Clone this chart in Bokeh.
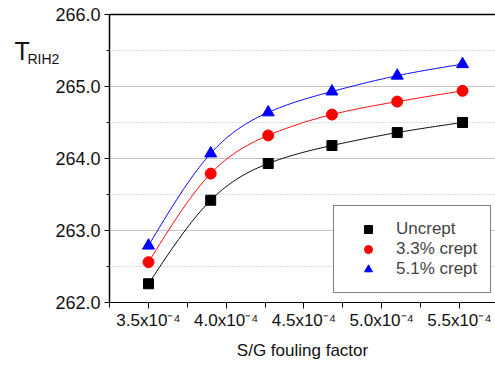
import numpy as np
from bokeh.plotting import figure
from bokeh.models import (FixedTicker, Label, Legend, LegendItem)
from bokeh.embed import file_html
from bokeh.resources import INLINE

# S/G fouling factor, in units of 1e-4
fouling = [3.5, 3.9, 4.27, 4.68, 5.10, 5.52]
uncrept = [262.26, 263.42, 263.93, 264.18, 264.36, 264.50]
crept_33 = [262.56, 263.79, 264.32, 264.61, 264.79, 264.94]
crept_51 = [262.79, 264.07, 264.64, 264.93, 265.15, 265.31]

x_ticks = [3.5, 4.0, 4.5, 5.0, 5.5]
x_minor_ticks = [3.25, 3.75, 4.25, 4.75, 5.25, 5.75]
x_tick_labels = ["3.5x10\u207b\u2074", "4.0x10\u207b\u2074", "4.5x10\u207b\u2074",
                 "5.0x10\u207b\u2074", "5.5x10\u207b\u2074"]
y_ticks = [262.0, 263.0, 264.0, 265.0, 266.0]
y_minor_ticks = [262.5, 263.5, 264.5, 265.5]

FONT = "Liberation Sans"

# axis box (data extents of the plotting box)
X0, X1 = 3.249, 5.732
Y0, Y1 = 262.0, 266.0


def natural_spline(x, y, n=200):
    x = np.asarray(x, float)
    y = np.asarray(y, float)
    k = len(x)
    h = np.diff(x)
    A = np.zeros((k, k))
    r = np.zeros(k)
    A[0, 0] = 1
    A[-1, -1] = 1
    for i in range(1, k - 1):
        A[i, i - 1] = h[i - 1]
        A[i, i] = 2 * (h[i - 1] + h[i])
        A[i, i + 1] = h[i]
        r[i] = 6 * ((y[i + 1] - y[i]) / h[i] - (y[i] - y[i - 1]) / h[i - 1])
    M = np.linalg.solve(A, r)
    xs = np.linspace(x[0], x[-1], n)
    idx = np.clip(np.searchsorted(x, xs) - 1, 0, k - 2)
    hi = h[idx]
    t1 = x[idx + 1] - xs
    t2 = xs - x[idx]
    ys = (M[idx] * t1 ** 3 / (6 * hi) + M[idx + 1] * t2 ** 3 / (6 * hi)
          + (y[idx] / hi - M[idx] * hi / 6) * t1 + (y[idx + 1] / hi - M[idx + 1] * hi / 6) * t2)
    return xs, ys


# the frame spans the whole canvas; both axes are pinned to the edges of the
# axis box so that the "T_RIH2" title can sit to the upper left of it
p = figure(width=495, height=366, output_backend="svg", toolbar_location=None,
           x_range=(2.548, X1), y_range=(261.111, 266.194),
           min_border_left=0, min_border_right=0, min_border_top=0, min_border_bottom=0)
p.outline_line_color = None
p.background_fill_color = "white"
p.border_fill_color = "white"
p.xgrid.visible = False
p.ygrid.visible = False

xa = p.below[0]
ya = p.left[0]

# horizontal grid lines, limited to the axis box
major_grid = [t for t in y_ticks if Y0 < t < Y1]
p.segment(x0=[X0] * len(major_grid), x1=[X1] * len(major_grid), y0=major_grid, y1=major_grid,
          line_color="#c4c4c4", line_width=1)
p.segment(x0=[X0] * len(y_minor_ticks), x1=[X1] * len(y_minor_ticks), y0=y_minor_ticks,
          y1=y_minor_ticks, line_color="#b8b8b8", line_width=1, line_dash="1 2")
# top border of the axis box
p.segment(x0=[X0], x1=[X1], y0=[Y1], y1=[Y1], line_color="black", line_width=1.5)

series = [
    (uncrept, "black", "square", 10, "Uncrept"),
    (crept_33, "red", "circle", 11, "3.3% crept"),
    (crept_51, "blue", "triangle", 12, "5.1% crept"),
]
items = []
for vals, col, mk, sz, name in series:
    xs, ys = natural_spline(fouling, vals)
    p.line(xs, ys, line_color=col, line_width=1)
for vals, col, mk, sz, name in series:
    r = p.scatter(fouling, vals, marker=mk, size=sz, fill_color=col, line_color=col)
    items.append(LegendItem(label=name, renderers=[r]))

legend = Legend(items=items, location=(333, 73), padding=13, spacing=0,
                glyph_width=42, glyph_height=20, label_height=20, label_standoff=7,
                label_text_font=FONT, label_text_font_size="17px",
                border_line_color="black", border_line_width=1,
                background_fill_color="white", background_fill_alpha=1.0, margin=0)
p.add_layout(legend, "center")

# x axis, pinned at the bottom of the axis box
xa.fixed_location = Y0
xa.bounds = (X0, X1)
xa.ticker = FixedTicker(ticks=x_ticks, minor_ticks=x_minor_ticks)
xa.major_label_overrides = {t: l for t, l in zip(x_ticks, x_tick_labels)}
xa.major_label_text_font = FONT
xa.major_label_text_font_size = "17px"
xa.major_label_text_color = "#111111"
xa.major_tick_out = 6
xa.major_tick_in = 0
xa.minor_tick_out = 5
xa.minor_tick_in = 0
xa.major_label_standoff = 3
xa.axis_line_color = "black"
xa.axis_label = "S/G fouling factor"
xa.axis_label_text_font = FONT
xa.axis_label_text_font_size = "17px"
xa.axis_label_text_font_style = "normal"
xa.axis_label_text_color = "#111111"
xa.axis_label_standoff = 7

# y axis, pinned at the left edge of the axis box
ya.fixed_location = X0
ya.bounds = (Y0, Y1)
ya.ticker = FixedTicker(ticks=y_ticks, minor_ticks=y_minor_ticks)
ya.major_label_overrides = {t: "%.1f" % t for t in y_ticks}
ya.major_label_text_font = FONT
ya.major_label_text_font_size = "18px"
ya.major_label_text_color = "#111111"
ya.major_tick_out = 5
ya.major_tick_in = 0
ya.minor_tick_out = 3
ya.minor_tick_in = 0
ya.major_label_standoff = 4
ya.axis_line_color = "black"
ya.axis_line_width = 1.5

# y-axis title "T" with subscript "RIH2", placed at the upper left
p.add_layout(Label(x=14, y=50, x_units="canvas", y_units="canvas", text="T",
                   text_font=FONT, text_font_size="25px", text_color="#111111",
                   text_baseline="alphabetic"))
p.add_layout(Label(x=27, y=58, x_units="canvas", y_units="canvas", text="RIH2",
                   text_font=FONT, text_font_size="14px", text_color="#111111",
                   text_baseline="alphabetic"))

open("out.html", "w").write(file_html(p, INLINE))
